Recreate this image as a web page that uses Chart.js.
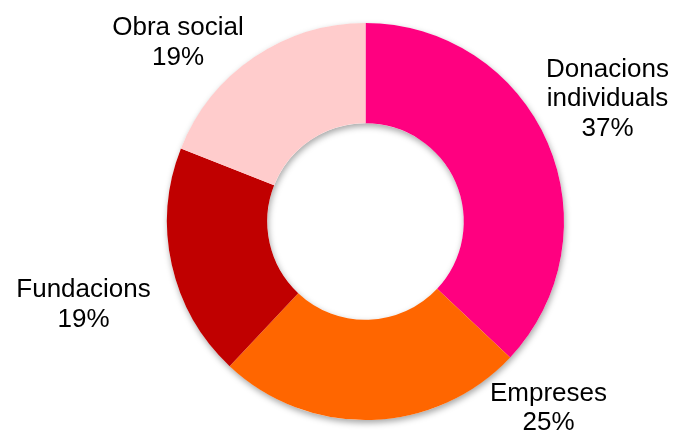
<!DOCTYPE html>
<html>
<head>
<meta charset="utf-8">
<script src="https://cdn.jsdelivr.net/npm/chart.js@4"></script>
<style>
  html, body { margin: 0; padding: 0; background: #fff; }
  #wrap { width: 673px; height: 432px; }
</style>
</head>
<body>
<div id="wrap"><canvas id="grafic" width="673" height="432"></canvas></div>
<script>
// fonts d'ingressos
let categories = [["Donacions", "individuals"], ["Empreses"], ["Fundacions"], ["Obra social"]];
let percentatges = [37, 25, 19, 19];
let colors = ["#ff0080", "#ff6600", "#c00000", "#ffcccc"];

// on va cada etiqueta, respecte del centre del donut (primera línia, base del text)
let posEtiquetes = [[242, -145], [183, 179], [-282, 75.5], [-187.5, -186.5]];

// ombra suau sota l'anell sencer
const ombra = {
    id: "ombra",
    beforeDatasetsDraw(chart) {
        const arc = chart.getDatasetMeta(0).data[0];
        if (!arc) return;
        const ctx = chart.ctx;
        ctx.save();
        ctx.shadowColor = "rgba(0,0,0,0.35)";
        ctx.shadowBlur = 6;
        ctx.shadowOffsetX = 1;
        ctx.shadowOffsetY = 3;
        ctx.fillStyle = "#fff";
        ctx.beginPath();
        ctx.arc(arc.x, arc.y, arc.outerRadius, 0, Math.PI * 2);
        ctx.arc(arc.x, arc.y, arc.innerRadius, 0, Math.PI * 2, true);
        ctx.fill("evenodd");
        ctx.restore();
    }
};

// etiquetes de text amb el percentatge
const etiquetes = {
    id: "etiquetes",
    afterDatasetsDraw(chart) {
        const meta = chart.getDatasetMeta(0);
        const ctx = chart.ctx;
        ctx.save();
        ctx.font = "26px 'Liberation Sans', Arial, sans-serif";
        ctx.fillStyle = "#000";
        ctx.textAlign = "center";
        ctx.textBaseline = "alphabetic";
        meta.data.forEach((arc, i) => {
            let linies = categories[i].concat([percentatges[i] + "%"]);
            let x = arc.x + posEtiquetes[i][0];
            let y = arc.y + posEtiquetes[i][1];
            linies.forEach((t, j) => ctx.fillText(t, x, y + j * 29.5));
        });
        ctx.restore();
    }
};

new Chart(document.getElementById("grafic"), {
    type: "doughnut",
    data: {
        labels: categories.map(c => c.join(" ")),
        datasets: [{
            data: percentatges,
            backgroundColor: colors,
            borderWidth: 0
        }]
    },
    options: {
        responsive: false,
        animation: false,
        cutout: "49.5%",
        layout: { padding: { top: 23, bottom: 12, left: 58, right: 0 } },
        plugins: {
            legend: { display: false },
            tooltip: { enabled: false }
        }
    },
    plugins: [ombra, etiquetes]
});
</script>
</body>
</html>
